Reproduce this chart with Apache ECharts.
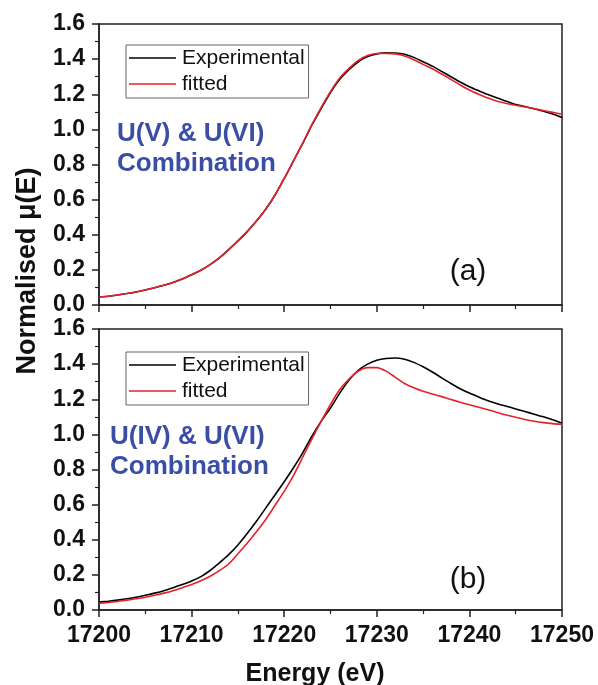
<!DOCTYPE html>
<html>
<head>
<meta charset="utf-8">
<script src="https://cdn.jsdelivr.net/npm/echarts@6/dist/echarts.min.js"></script>
<style>
html,body{margin:0;padding:0;background:#fff;}
#chart{width:598px;height:685px;}
</style>
</head>
<body>
<div id="chart"></div>
<script>
// Energy grid (eV)
const energy = [];
for (let e = 17200; e <= 17250; e++) energy.push(e);

// Panel (a): U(V) & U(VI) combination
const expA = [0.045,0.050,0.057,0.065,0.074,0.085,0.098,0.112,0.128,0.148,
  0.172,0.198,0.230,0.268,0.315,0.365,0.418,0.478,0.545,0.625,
  0.720,0.820,0.920,1.025,1.120,1.210,1.285,1.340,1.385,1.415,
  1.430,1.436,1.435,1.428,1.410,1.385,1.360,1.330,1.300,1.270,
  1.243,1.220,1.198,1.178,1.160,1.142,1.130,1.117,1.103,1.087,1.068];
const fitA = [0.045,0.050,0.057,0.065,0.074,0.085,0.098,0.112,0.128,0.148,
  0.172,0.198,0.230,0.268,0.315,0.365,0.418,0.478,0.545,0.625,
  0.720,0.820,0.922,1.028,1.125,1.215,1.292,1.347,1.392,1.420,
  1.432,1.433,1.430,1.418,1.397,1.370,1.345,1.315,1.285,1.253,
  1.224,1.200,1.178,1.160,1.147,1.137,1.128,1.118,1.107,1.097,1.086];

// Panel (b): U(IV) & U(VI) combination
const expB = [0.045,0.050,0.056,0.064,0.073,0.084,0.096,0.110,0.127,0.145,
  0.165,0.190,0.225,0.268,0.315,0.370,0.435,0.505,0.580,0.655,
  0.730,0.810,0.895,0.990,1.075,1.150,1.235,1.310,1.365,1.400,
  1.422,1.432,1.435,1.428,1.410,1.385,1.355,1.322,1.290,1.260,
  1.235,1.213,1.192,1.175,1.160,1.145,1.130,1.115,1.100,1.083,1.064];
const fitB = [0.038,0.043,0.049,0.056,0.064,0.073,0.084,0.096,0.110,0.127,
  0.145,0.166,0.192,0.224,0.262,0.320,0.380,0.445,0.515,0.595,
  0.675,0.765,0.870,0.975,1.075,1.170,1.255,1.315,1.360,1.380,
  1.380,1.360,1.325,1.290,1.265,1.245,1.230,1.215,1.198,1.183,
  1.169,1.155,1.140,1.125,1.110,1.097,1.085,1.075,1.067,1.061,1.057];

const seriesNames = ['Experimental', 'fitted'];
const xTicks = [17200, 17210, 17220, 17230, 17240, 17250];
const yTicks = [0.0, 0.2, 0.4, 0.6, 0.8, 1.0, 1.2, 1.4, 1.6];

const FONT = '"Liberation Sans", Arial, sans-serif';
const BLUE = '#3b4ea6';
const RED = '#e3222b';

function pairs(vals){ return energy.map((e,i)=>[e, vals[i]]); }

function xAxisCfg(gridIndex, showLabels){
  return {
    type:'value', gridIndex, min:xTicks[0], max:xTicks[xTicks.length-1], interval:10,
    axisLine:{show:true, lineStyle:{color:'#222', width:1.5}},
    axisTick:{show:true, inside:false, length:7, lineStyle:{color:'#222', width:1.5}},
    minorTick:{show:true, splitNumber:2, length:4, lineStyle:{color:'#222', width:1.2}},
    splitLine:{show:false},
    axisLabel:{show:showLabels, color:'#111', fontFamily:FONT, fontWeight:'bold', fontSize:23, margin:14,
      formatter:v=>String(v)}
  };
}
function yAxisCfg(gridIndex){
  return {
    type:'value', gridIndex, min:yTicks[0], max:yTicks[yTicks.length-1], interval:0.2,
    axisLine:{show:true, lineStyle:{color:'#222', width:1.5}},
    axisTick:{show:true, inside:false, length:7, lineStyle:{color:'#222', width:1.5}},
    minorTick:{show:true, splitNumber:2, length:4, lineStyle:{color:'#222', width:1.2}},
    splitLine:{show:false},
    axisLabel:{color:'#111', fontFamily:FONT, fontWeight:'bold', fontSize:23, margin:14,
      formatter:v=>v.toFixed(1)}
  };
}
function legendCfg(top){
  return {
    left:126, top, orient:'vertical', show:true,
    data:[{name:seriesNames[0], icon:'rect'},{name:seriesNames[1], icon:'rect'}],
    itemWidth:47, itemHeight:1.6, itemGap:4,
    padding:[2,4,3,3],
    borderColor:'#666', borderWidth:1, backgroundColor:'#fff',
    selectedMode:false,
    textStyle:{fontFamily:FONT, fontSize:21, color:'#111', lineHeight:22, padding:[0,0,0,1]}
  };
}
function lineSeries(name, data, color, xi, yi){
  return {type:'line', name, data:pairs(data), xAxisIndex:xi, yAxisIndex:yi,
    showSymbol:false, smooth:0.25, lineStyle:{color, width:1.6}, itemStyle:{color},
    animation:false, z: color===RED?3:2};
}

const chart = echarts.init(document.getElementById('chart'), null, {renderer:'canvas'});
chart.setOption({
  backgroundColor:'#fff',
  animation:false,
  grid:[
    {left:99, top:24, width:463, height:281, show:true, borderColor:'#222', borderWidth:1.5, backgroundColor:'transparent'},
    {left:99, top:329, width:463, height:281, show:true, borderColor:'#222', borderWidth:1.5, backgroundColor:'transparent'}
  ],
  xAxis:[xAxisCfg(0,false), xAxisCfg(1,true)],
  yAxis:[yAxisCfg(0), yAxisCfg(1)],
  legend:[legendCfg(45), legendCfg(352)],
  series:[
    lineSeries(seriesNames[0], expA, '#000', 0, 0),
    lineSeries(seriesNames[1], fitA, RED, 0, 0),
    lineSeries(seriesNames[0], expB, '#000', 1, 1),
    lineSeries(seriesNames[1], fitB, RED, 1, 1)
  ],
  graphic:[
    {type:'text', x:28, y:271, rotation:Math.PI/2, style:{text:'Normalised μ(E)', fontFamily:FONT, fontWeight:'bold', fontSize:27, fill:'#111', align:'center', verticalAlign:'middle'}},
    {type:'text', x:315, y:674, style:{text:'Energy (eV)', fontFamily:FONT, fontWeight:'bold', fontSize:25, fill:'#111', align:'center', verticalAlign:'middle'}},
    {type:'text', x:117, y:134, style:{text:'U(V) & U(VI)', fontFamily:FONT, fontWeight:'bold', fontSize:26, fill:BLUE, align:'left', verticalAlign:'middle'}},
    {type:'text', x:117, y:164, style:{text:'Combination', fontFamily:FONT, fontWeight:'bold', fontSize:26, fill:BLUE, align:'left', verticalAlign:'middle'}},
    {type:'text', x:110, y:437, style:{text:'U(IV) & U(VI)', fontFamily:FONT, fontWeight:'bold', fontSize:26, fill:BLUE, align:'left', verticalAlign:'middle'}},
    {type:'text', x:110, y:467, style:{text:'Combination', fontFamily:FONT, fontWeight:'bold', fontSize:26, fill:BLUE, align:'left', verticalAlign:'middle'}},
    {type:'text', x:468, y:272, style:{text:'(a)', fontFamily:FONT, fontSize:30, fill:'#111', align:'center', verticalAlign:'middle'}},
    {type:'text', x:468, y:580, style:{text:'(b)', fontFamily:FONT, fontSize:30, fill:'#111', align:'center', verticalAlign:'middle'}}
  ]
});
</script>
</body>
</html>
